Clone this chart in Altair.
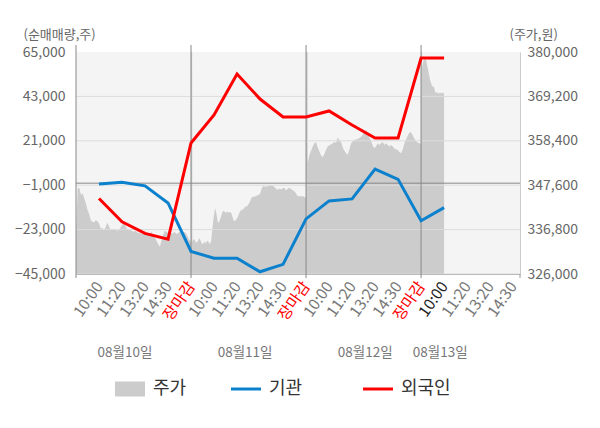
import altair as alt
import pandas as pd

# ---------------- data ----------------
slot_labels = ["10:00", "11:20", "13:20", "14:30", "장마감"]
date_labels = ["08월10일", "08월11일", "08월12일", "08월13일"]
series_names = ["주가", "기관", "외국인"]

inst_net = [-400, 400, -1300, -9800, -33800, -37200, -37200, -43900, -40200,
            -17700, -8800, -7800, 7000, 1900, -18600, -12100]
foreign_net = [-7600, -19100, -24900, -27700, 19900, 33800, 54100, 41700, 32800,
               32800, 35800, 28800, 22400, 22400, 62000, 62000]

price_day1 = [335100, 346800, 347000, 345200, 345600, 344400, 343200, 341600, 340600,
              339100, 338700, 338600, 339100, 338900, 338300, 337100, 337100, 336700,
              337300, 338500, 337700, 336700, 336900, 336700, 336900, 336500, 336700,
              337200, 337900, 338300, 337700, 337000, 336700, 336700, 336500, 336300,
              336500, 336200, 336000, 335900, 335700, 336300, 335900, 335500, 335700,
              335900, 336200, 335400, 334900, 334100, 333300, 332600, 334100, 335500,
              336500, 336300, 336000, 336300, 335900, 335900, 336300, 335700, 335900,
              336300, 336000, 336300, 336200, 335900, 335100, 334300, 333900]
price_day2 = [334700, 333900, 334500, 334100, 333600, 333900, 334700, 334300, 333500,
              333300, 333900, 333500, 334100, 333900, 333300, 333900, 337100, 339900,
              342000, 340800, 338500, 338700, 339500, 340600, 341400, 341200, 340900,
              341200, 340900, 341100, 340900, 339900, 338900, 339000, 339300, 339900,
              340800, 341400, 341600, 341700, 342200, 342500, 342500, 343000, 343600,
              344400, 344700, 344800, 344900, 345000, 345200, 345300, 345900, 346900,
              347400, 347300, 347300, 347300, 347400, 347600, 347600, 347500, 347200,
              347000, 346600, 346500, 346800, 346600, 346700, 347000, 346900, 346400,
              346600, 347000, 346800, 346700, 346400, 346200, 345800, 345300, 344900,
              344900, 344900, 344900, 344900, 344700, 344500]
price_day3 = [352900, 353100, 354900, 356000, 357000, 357800, 358100, 356800, 355800,
              354900, 354400, 355200, 356200, 357000, 357300, 357500, 357800, 358100,
              357900, 359200, 358600, 358100, 356800, 356000, 355400, 355000, 356300,
              357800, 358300, 358600, 358800, 358800, 359100, 359400, 359900, 360600,
              361000, 360200, 359200, 358400, 357200, 356600, 357100, 357800, 357400,
              357800, 358100, 357400, 357800, 357400, 357000, 357400, 357000, 356500,
              356300, 356200, 355700, 355400, 356300, 357800, 358800, 359600, 360400,
              360500, 359700, 358900, 358400, 357900, 357800, 357600]
price_day4 = [374400, 376000, 377600, 378200, 378200, 378100, 376800, 375600, 374400,
              373200, 372400, 371700, 371600, 371400, 370400, 369900, 370400, 369800,
              370100, 369900, 370200, 369900, 370100, 369900]

left_ticks = [-45000, -23000, -1000, 21000, 43000, 65000]
right_ticks = [326000, 336800, 347600, 358400, 369200, 380000]

# ---------------- layout / style ----------------
W, H = 444, 222
X_MIN, X_MAX = -1, 18.3
date_x = [1.13, 6.35, 11.57, 14.83]
day_bounds = [-1, 4, 9, 14]
colors = ["#cccccc", "#0b80cd", "#ff0000"]
FONT = "Noto Sans CJK KR"
UNIT = (left_ticks[-1] - left_ticks[0]) / H      # left-axis units per pixel
LINE_TOP = left_ticks[-1] + 7 * UNIT             # separators reach 7px above the plot
TICK_BOT = left_ticks[0] - 4 * UNIT              # 4px tick marks below the plot

tick_labels = (slot_labels * 4)[:19]

line_rows = []
for name, vals in (("기관", inst_net), ("외국인", foreign_net)):
    for i, v in enumerate(vals):
        line_rows.append({"x": i, "value": v, "series": name})
lines_df = pd.DataFrame(line_rows)

price_rows = []
for d, vals in enumerate([price_day1, price_day2, price_day3, price_day4]):
    start = 5 * d - 1
    end = start + 5 if d < 3 else start + 1
    n = len(vals)
    for i, v in enumerate(vals):
        price_rows.append({"x": start + (end - start) * i / (n - 1), "price": v, "series": "주가"})
price_df = pd.DataFrame(price_rows)

label_expr = "[" + ",".join("'" + t + "'" for t in tick_labels) + "][datum.value]"
label_fill = ("datum.value % 5 == 4 ? '#ff0000' : (datum.value == 15 ? '#222222' : '#777777')")

xscale = alt.Scale(domain=[X_MIN, X_MAX], nice=False, zero=False)
xaxis = alt.Axis(values=list(range(len(tick_labels))), labelExpr=label_expr, labelAngle=-55,
                 labelFontSize=15.5, labelPadding=9, ticks=False, grid=False, title=None,
                 domainColor="#999999", labelOverlap=False, labelFlush=False,
                 labelColor=alt.ExprRef(expr=label_fill))
X = alt.X("x:Q", scale=xscale, axis=xaxis)

left_scale = alt.Scale(domain=[left_ticks[0], left_ticks[-1]], nice=False, zero=False)
left_axis = alt.Axis(orient="left", values=left_ticks, format=",d", grid=False, ticks=False,
                     domain=False, labelFontSize=14, labelColor="#666666", labelPadding=11,
                     labelFlush=False, title="(순매매량,주)", titleAngle=0, titleX=-53, titleY=-14,
                     titleAlign="left", titleBaseline="alphabetic", titleFontSize=13,
                     titleFontWeight="normal", titleColor="#666666")
right_scale = alt.Scale(domain=[right_ticks[0], right_ticks[-1]], nice=False, zero=False)
right_axis = alt.Axis(orient="right", values=right_ticks, format=",d", grid=False, ticks=False,
                      domain=True, domainColor="#cccccc", labelFontSize=14, labelColor="#666666",
                      labelPadding=7, labelFlush=False, title="(주가,원)", titleAngle=0,
                      titleX=-11, titleY=-14, titleAlign="left", titleBaseline="alphabetic",
                      titleFontSize=13, titleFontWeight="normal", titleColor="#666666")

shape_sig = "datum.value === '주가' ? 'M-1,-0.5H1V0.5H-1Z' : 'M-1,-0.1H1V0.1H-1Z'"
legend_label = "datum.label === '기관' ? datum.label + '\u3164' : datum.label"
legend = alt.Legend(title=None, orient="none", legendX=39, legendY=322, direction="horizontal",
                    symbolSize=900, labelFontSize=18, labelColor="#333333", labelOffset=8,
                    columnPadding=44, symbolType=alt.ExprRef(expr=shape_sig),
                    labelExpr=legend_label, symbolStrokeWidth=0, symbolOpacity=1)
color = alt.Color("series:N", scale=alt.Scale(domain=series_names, range=colors), legend=legend)

area = alt.Chart(price_df).mark_area(interpolate="linear", clip=True).encode(
    x=X, y=alt.Y("price:Q", scale=right_scale, axis=right_axis), color=color)

grid = alt.Chart(pd.DataFrame({"v": left_ticks[:-1]})).mark_rule(color="#dcdcdc", strokeWidth=1).encode(
    y=alt.Y("v:Q", scale=left_scale, axis=left_axis))
zero = alt.Chart(pd.DataFrame({"v": [0]})).mark_rule(color="#888888", strokeWidth=1).encode(
    y=alt.Y("v:Q", scale=left_scale, axis=left_axis))
vlines = alt.Chart(pd.DataFrame({"x": day_bounds, "top": LINE_TOP, "bot": TICK_BOT})).mark_rule(
    color="#888888", strokeWidth=1).encode(
    x=X, y=alt.Y("top:Q", scale=left_scale, axis=left_axis), y2="bot:Q")
endtick = alt.Chart(pd.DataFrame({"x": [X_MAX], "top": left_ticks[0], "bot": TICK_BOT})).mark_rule(
    color="#999999", strokeWidth=1).encode(
    x=X, y=alt.Y("top:Q", scale=left_scale, axis=left_axis), y2="bot:Q")
lines = alt.Chart(lines_df).mark_line(strokeWidth=3).encode(
    x=X, y=alt.Y("value:Q", scale=left_scale, axis=left_axis), color=color)
dates = alt.Chart(pd.DataFrame({"x": date_x, "label": date_labels})).mark_text(
    fontSize=13.5, color="#777777", baseline="middle", font=FONT).encode(
    x=X, y=alt.value(301), text="label:N")

inner = alt.layer(grid, zero, vlines, endtick, lines, dates)
chart = alt.layer(area, inner).resolve_scale(y="independent").properties(
    width=W, height=H,
    autosize=alt.AutoSizeParams(type="none"),
    padding={"left": 68, "top": 44, "right": 60, "bottom": 140},
).configure(font=FONT).configure_view(fill="#f4f4f4", strokeWidth=0)

chart.save("out.html", embed_options={"renderer": "svg", "actions": False})
